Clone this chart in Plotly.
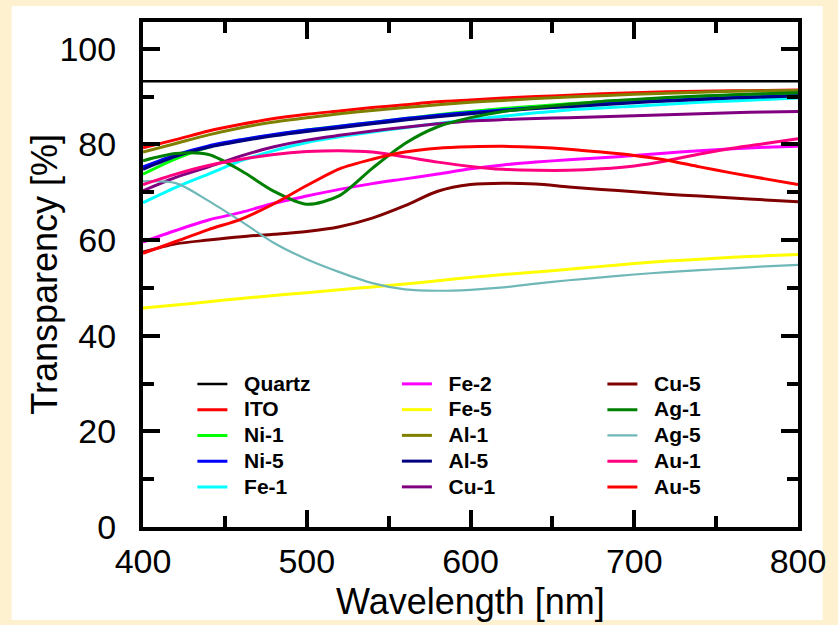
import plotly.graph_objects as go

# ---------------- data ----------------
wavelength = [400, 420, 440, 460, 480, 500, 520, 540, 560, 580, 600,
              620, 640, 660, 680, 700, 720, 740, 760, 780, 800]

quartz = [93.2] * 21
ito   = [79.3, 81.0, 82.8, 84.2, 85.4, 86.3, 87.0, 87.7, 88.3, 88.9, 89.3,
         89.7, 90.0, 90.3, 90.6, 90.8, 91.0, 91.1, 91.2, 91.3, 91.4]
ni_1  = [73.8, 77.0, 79.4, 80.9, 82.0, 83.0, 83.8, 84.6, 85.4, 86.2, 86.9,
         87.5, 88.0, 88.5, 88.9, 89.3, 89.7, 90.0, 90.3, 90.5, 90.7]
ni_5  = [75.3, 77.8, 79.7, 81.0, 82.1, 83.0, 83.8, 84.6, 85.4, 86.1, 86.7,
         87.2, 87.7, 88.1, 88.5, 88.9, 89.2, 89.5, 89.8, 90.0, 90.2]
fe_1  = [67.8, 71.0, 73.8, 76.6, 78.7, 80.4, 81.6, 82.6, 83.5, 84.4, 85.2,
         85.9, 86.6, 87.2, 87.6, 88.0, 88.4, 88.8, 89.1, 89.4, 89.7]
fe_2  = [59.6, 62.0, 64.2, 65.8, 67.7, 69.2, 70.6, 71.8, 72.8, 73.8, 74.9,
         75.7, 76.3, 76.8, 77.2, 77.7, 78.2, 78.7, 79.1, 79.4, 79.6]
fe_5  = [45.8, 46.4, 47.1, 47.8, 48.4, 49.0, 49.6, 50.2, 50.8, 51.5, 52.2,
         52.8, 53.3, 53.9, 54.5, 55.1, 55.6, 56.0, 56.4, 56.7, 57.0]
al_1  = [78.4, 80.2, 82.0, 83.5, 84.7, 85.6, 86.4, 87.1, 87.7, 88.3, 88.8,
         89.2, 89.6, 89.9, 90.2, 90.5, 90.7, 90.9, 91.1, 91.2, 91.3]
al_5  = [74.8, 77.5, 79.4, 80.7, 81.8, 82.7, 83.5, 84.3, 85.1, 85.8, 86.4,
         87.0, 87.5, 87.9, 88.3, 88.7, 89.1, 89.4, 89.7, 89.9, 90.1]
cu_1  = [70.3, 73.1, 75.3, 77.6, 79.5, 80.9, 81.9, 82.8, 83.6, 84.3, 84.9,
         85.2, 85.4, 85.6, 85.8, 86.0, 86.2, 86.4, 86.6, 86.8, 86.9]
cu_5  = [57.5, 59.2, 60.0, 60.7, 61.2, 61.8, 62.8, 64.6, 67.2, 70.2, 71.6,
         71.9, 71.7, 71.1, 70.6, 70.1, 69.6, 69.2, 68.8, 68.4, 68.0]
ag_1  = [76.6, 78.1, 77.9, 74.5, 70.2, 67.5, 69.3, 75.0, 80.2, 83.7, 85.6,
         86.9, 87.7, 88.4, 89.0, 89.4, 89.8, 90.1, 90.4, 90.6, 90.8]
ag_5  = [72.3, 71.9, 68.2, 63.9, 59.4, 56.0, 53.3, 51.0, 49.7, 49.4, 49.6,
         50.1, 50.9, 51.6, 52.2, 52.8, 53.3, 53.7, 54.1, 54.5, 54.8]
au_1  = [71.6, 73.8, 75.6, 76.9, 77.9, 78.5, 78.7, 78.4, 77.4, 76.3, 75.4,
         74.8, 74.6, 74.6, 74.9, 75.5, 76.6, 78.0, 79.2, 80.2, 81.2]
au_5  = [57.2, 59.7, 62.2, 64.4, 67.6, 71.4, 74.9, 76.9, 78.4, 79.2, 79.5,
         79.6, 79.4, 79.0, 78.4, 77.7, 76.7, 75.3, 74.0, 72.8, 71.6]

series_names = ["Quartz", "ITO", "Ni-1", "Ni-5", "Fe-1", "Fe-2", "Fe-5", "Al-1",
                "Al-5", "Cu-1", "Cu-5", "Ag-1", "Ag-5", "Au-1", "Au-5"]
series_values = [quartz, ito, ni_1, ni_5, fe_1, fe_2, fe_5, al_1,
                 al_5, cu_1, cu_5, ag_1, ag_5, au_1, au_5]

y_tick_values = [0, 20, 40, 60, 80, 100]
x_tick_values = [400, 500, 600, 700, 800]

# ---------------- styles ----------------
colors = {
    "Quartz": "#000000", "ITO": "#FF0000", "Ni-1": "#00FF00", "Ni-5": "#0000FF",
    "Fe-1": "#00FFFF", "Fe-2": "#FF00FF", "Fe-5": "#FFFF00", "Al-1": "#808000",
    "Al-5": "#000080", "Cu-1": "#800080", "Cu-5": "#800000", "Ag-1": "#008000",
    "Ag-5": "#70B8B8", "Au-1": "#FF0080", "Au-5": "#FF0000",
}
widths = {"Quartz": 2.5, "Ag-5": 2.2}
legend_of = {}
for i, n in enumerate(series_names):
    legend_of[n] = ["legend", "legend2", "legend3"][i // 5]

fig = go.Figure()
for name, vals in zip(series_names, series_values):
    fig.add_trace(go.Scatter(
        x=wavelength, y=vals, mode="lines",
        name='<span style="font-size:21px">\u00a0\u00a0' + name + '</span>',
        line=dict(color=colors[name], width=widths.get(name, 3),
                  shape="spline", smoothing=0.8),
        legend=legend_of[name],
        showlegend=True,
    ))

W, H = 838, 625
L, R, T, B = 143, 32, 22, 98
pw, ph = W - L - R, H - T - B

def px_x(px):
    return (px - L) / pw

def px_y(py):
    return (H - B - py) / ph

legend_common = dict(
    orientation="v", xanchor="left", yanchor="top", y=px_y(366),
    bgcolor="rgba(0,0,0,0)", borderwidth=0,
    font=dict(family="Liberation Sans, Arial, sans-serif", size=17.5,
              color="black", weight="bold"),
    tracegroupgap=0,
)

axis_font = dict(family="Liberation Sans, Arial, sans-serif", size=34, color="black")

fig.update_layout(
    width=W, height=H,
    margin=dict(l=L, r=R, t=T, b=B, pad=0),
    paper_bgcolor="#FEF1CF",
    plot_bgcolor="white",
    showlegend=True,
    legend=dict(legend_common, x=px_x(193)),
    legend2=dict(legend_common, x=px_x(400)),
    legend3=dict(legend_common, x=px_x(608)),
    xaxis=dict(
        range=[400, 800], tickvals=x_tick_values, ticks="inside",
        ticklen=17, tickwidth=3.5, tickcolor="black",
        showline=True, linewidth=4, linecolor="black", mirror="ticks",
        showgrid=False, zeroline=False, tickfont=axis_font,
        ticklabelstandoff=1,
        minor=dict(dtick=50, tick0=400, ticks="inside", ticklen=11,
                   tickwidth=3.5, tickcolor="black", showgrid=False),
    ),
    yaxis=dict(
        range=[0, 105.6], tickvals=y_tick_values, ticks="inside",
        ticklen=17, tickwidth=3.5, tickcolor="black",
        showline=True, linewidth=4, linecolor="black", mirror="ticks",
        showgrid=False, zeroline=False, tickfont=axis_font,
        ticklabelstandoff=16,
        minor=dict(dtick=10, tick0=0, ticks="inside", ticklen=11,
                   tickwidth=3.5, tickcolor="black", showgrid=False),
    ),
    shapes=[dict(
        type="rect", xref="paper", yref="paper", layer="below",
        x0=px_x(10), x1=px_x(831), y0=px_y(620), y1=px_y(6),
        fillcolor="white", line=dict(width=0),
    )],
    annotations=[
        dict(text="Wavelength [nm]", xref="paper", yref="paper",
             x=0.5, y=px_y(601), xanchor="center", yanchor="middle",
             showarrow=False,
             font=dict(family="Liberation Sans, Arial, sans-serif", size=36, color="black")),
        dict(text="Transparency [%]", xref="paper", yref="paper",
             x=px_x(43), y=0.5, xanchor="center", yanchor="middle",
             textangle=-90, showarrow=False,
             font=dict(family="Liberation Sans, Arial, sans-serif", size=36, color="black")),
    ],
)

fig.write_html(
    "out.html",
    config={"displayModeBar": False},
    post_script="document.body.style.margin='0';document.body.style.padding='0';"
                "document.body.style.overflow='hidden';",
)
